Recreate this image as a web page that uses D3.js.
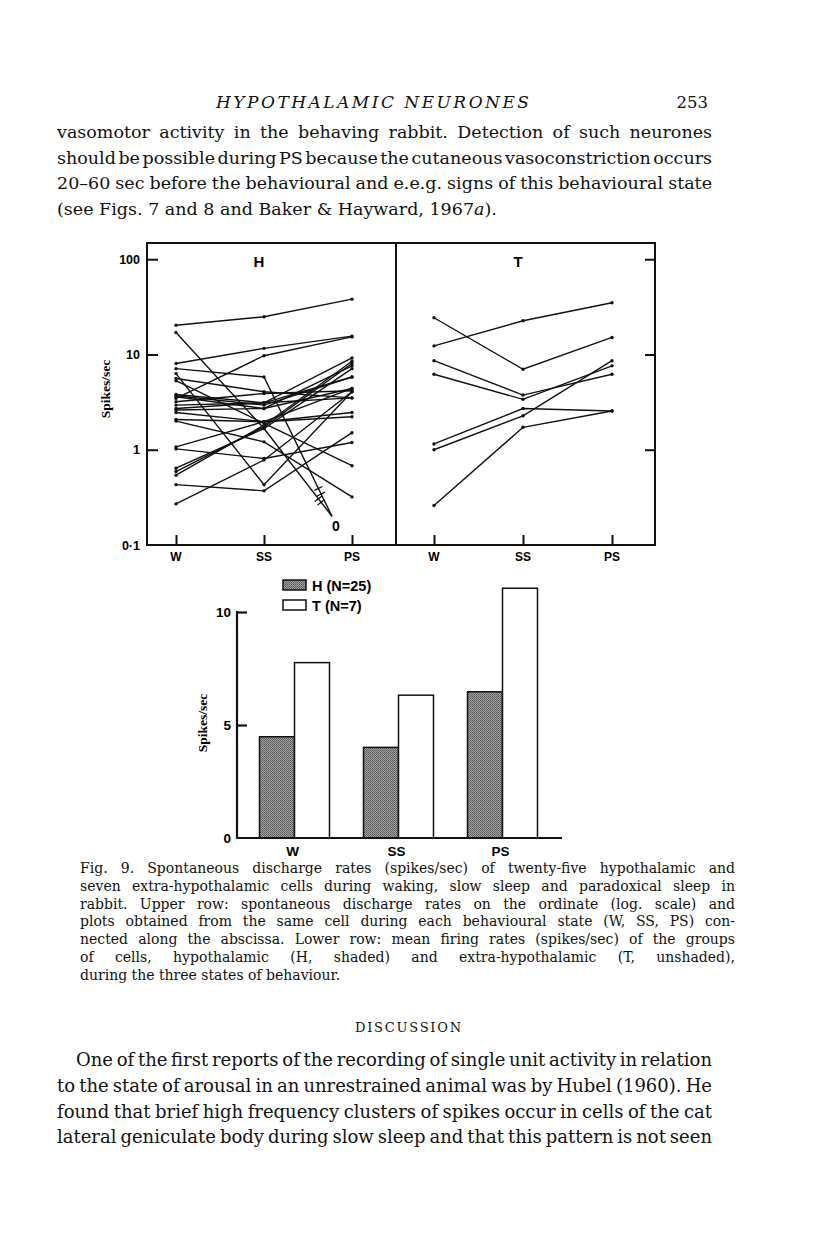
<!DOCTYPE html>
<html>
<head>
<meta charset="utf-8">
<script src="https://cdn.jsdelivr.net/npm/d3@7"></script>
<style>
  body { margin: 0; background: #fff; }
  svg { display: block; }
</style>
</head>
<body>
<svg></svg>
<script>
/* data */
var states = ['W', 'SS', 'PS'];
var panelTitles = ['H', 'T'];

// H: 25 hypothalamic cells, spikes/sec (0 = silent)
var hW  = [20.3, 17.0, 8.05, 3.46, 7.1, 6.3, 5.6, 5.3, 3.8, 3.69, 3.6, 3.19, 2.71, 2.61, 2.46, 2.08, 2.0, 1.07, 1.02, 0.64, 0.59, 0.54, 0.43, 0.27, 2.94];
var hSS = [24.9, 1.67, 11.6, 9.7, 5.8, 0.43, 4.06, 1.89, 3.11, 2.94, 2.71, 3.9, 3.11, 2.71, 1.97, 1.97, 1.21, 1.97, 0.81, 1.67, 1.74, 1.81, 0.37, 0.78, 3.11];
var hPS = [38.1, 0, 15.6, 15.3, 0, 4.06, 3.5, 0.68, 9.2, 5.8, 4.4, 4.16, 3.5, 7.6, 2.46, 2.22, 0.32, 4.4, 1.19, 7.1, 8.05, 8.5, 1.51, 4.06, 5.8];

// T: 7 extra-hypothalamic cells
var tW  = [24.3, 12.3, 8.6, 6.2, 1.15, 1.0, 0.26];
var tSS = [7.0, 22.6, 3.75, 3.38, 2.71, 2.27, 1.72];
var tPS = [15.1, 34.9, 6.2, 7.6, 2.55, 8.6, 2.55];

// lower row: group means
var meanH = [4.48, 4.01, 6.47];
var meanT = [7.76, 6.32, 11.05];
var groupLabels = ['H (N=25)', 'T (N=7)'];

var logTicks = [0.1, 1, 10, 100];
var logTickLabels = ['0·1', '1', '10', '100'];
var barTicks = [0, 5, 10];

var headerText = ['HYPOTHALAMIC NEURONES', '253'];
var bodyLines = [
  'vasomotor activity in the behaving rabbit. Detection of such neurones',
  'should be possible during PS because the cutaneous vasoconstriction occurs',
  '20–60 sec before the behavioural and e.e.g. signs of this behavioural state'
];
var captionLines = [
  'Fig. 9. Spontaneous discharge rates (spikes/sec) of twenty-five hypothalamic and',
  'seven extra-hypothalamic cells during waking, slow sleep and paradoxical sleep in',
  'rabbit. Upper row: spontaneous discharge rates on the ordinate (log. scale) and',
  'plots obtained from the same cell during each behavioural state (W, SS, PS) con-',
  'nected along the abscissa. Lower row: mean firing rates (spikes/sec) of the groups',
  'of cells, hypothalamic (H, shaded) and extra-hypothalamic (T, unshaded),',
  'during the three states of behaviour.'
];
var discussionLines = [
  'One of the first reports of the recording of single unit activity in relation',
  'to the state of arousal in an unrestrained animal was by Hubel (1960). He',
  'found that brief high frequency clusters of spikes occur in cells of the cat',
  'lateral geniculate body during slow sleep and that this pattern is not seen'
];

/* page setting */
var svgWidth = 816;
var svgHeight = 1258;
var serif = '"Liberation Serif", "DejaVu Serif", serif';
var book = '"DejaVu Serif", serif';
var sans = '"Liberation Sans", Arial, sans-serif';
var frame = {left: 147, right: 655, mid: 396, top: 243, bottom: 545};
var zeroLevel = 0.2;   // where the "0" cells are drawn on the log scale
var scale = {};

var svg = d3.select('svg')
    .attr('width', svgWidth)
    .attr('height', svgHeight);

setScale();
drawText();
drawUpper();
drawLower();

function setScale(){
  scale.y = d3.scaleLog()
      .domain([0.1, 148])
      .range([frame.bottom, frame.top]);
  scale.xH = d3.scalePoint().domain(states).range([176, 352]);
  scale.xT = d3.scalePoint().domain(states).range([434, 612]);

  scale.barY = d3.scaleLinear()
      .domain([0, 10])
      .range([838, 612]);
  scale.barX = d3.scalePoint().domain(states).range([294.5, 502.5]);
}

/* upper row: log plots */
function drawUpper(){
  var g = svg.append('g').attr('class', 'upper');

  g.append('rect')
      .attr('x', frame.left).attr('y', frame.top)
      .attr('width', frame.right - frame.left)
      .attr('height', frame.bottom - frame.top)
      .attr('fill', 'none').attr('stroke', '#111').attr('stroke-width', 2);
  g.append('line')
      .attr('x1', frame.mid).attr('x2', frame.mid)
      .attr('y1', frame.top).attr('y2', frame.bottom)
      .attr('stroke', '#111').attr('stroke-width', 2);

  // inward ticks, left and right
  var leftAxis = g.append('g')
      .attr('transform', translate(frame.left, 0))
      .call(d3.axisRight(scale.y).tickValues([1, 10, 100]).tickSize(11).tickFormat(''));
  var rightAxis = g.append('g')
      .attr('transform', translate(frame.right, 0))
      .call(d3.axisLeft(scale.y).tickValues([1, 10, 100]).tickSize(10).tickFormat(''));
  [leftAxis, rightAxis].forEach(function(a){
    a.select('.domain').remove();
    a.selectAll('line').attr('stroke', '#111').attr('stroke-width', 2);
  });

  g.selectAll('text.ylab')
      .data(logTicks)
      .enter()
      .append('text')
      .attr('class', 'ylab')
      .attr('x', frame.left - 7)
      .attr('y', function(d){ return scale.y(d) + 4.5; })
      .attr('text-anchor', 'end')
      .attr('font-family', sans).attr('font-weight', 'bold').attr('font-size', 12.5)
      .text(function(d, i){ return logTickLabels[i]; });

  g.append('text')
      .attr('transform', translate(110, 389) + ' rotate(-90)')
      .attr('text-anchor', 'middle')
      .attr('font-family', serif).attr('font-weight', 'bold').attr('font-size', 13.5)
      .text('Spikes/sec');

  drawPanel(g, scale.xH, hW, hSS, hPS, panelTitles[0]);
  drawPanel(g, scale.xT, tW, tSS, tPS, panelTitles[1]);
}

function drawPanel(g, x, W, SS, PS, title){
  var p = g.append('g');

  var xAxis = p.append('g')
      .attr('transform', translate(0, frame.bottom))
      .call(d3.axisTop(x).tickSize(10).tickFormat(''));
  xAxis.select('.domain').remove();
  xAxis.selectAll('line').attr('stroke', '#111').attr('stroke-width', 2);

  p.selectAll('text.xlab')
      .data(states)
      .enter()
      .append('text')
      .attr('x', function(d){ return x(d); })
      .attr('y', frame.bottom + 16)
      .attr('text-anchor', 'middle')
      .attr('font-family', sans).attr('font-weight', 'bold').attr('font-size', 12)
      .text(function(d){ return d; });

  p.append('text')
      .attr('x', x('SS') - 5)
      .attr('y', frame.top + 24)
      .attr('text-anchor', 'middle')
      .attr('font-family', sans).attr('font-weight', 'bold').attr('font-size', 15)
      .text(title);

  var cells = W.map(function(w, i){
    return [w, SS[i], PS[i]].map(function(v, j){
      if (v === 0) {
        return {x: x(states[j]) - 20, y: scale.y(zeroLevel), zero: true};
      }
      return {x: x(states[j]), y: scale.y(v), zero: false};
    });
  });

  var line = d3.line()
      .x(function(d){ return d.x; })
      .y(function(d){ return d.y; });

  p.selectAll('path.cell')
      .data(cells)
      .enter()
      .append('path')
      .attr('class', 'cell')
      .attr('d', line)
      .attr('fill', 'none')
      .attr('stroke', '#111')
      .attr('stroke-width', 1.4);

  var dots = [];
  cells.forEach(function(c){
    c.forEach(function(d){ if (!d.zero) dots.push(d); });
  });
  p.selectAll('circle')
      .data(dots)
      .enter()
      .append('circle')
      .attr('cx', function(d){ return d.x; })
      .attr('cy', function(d){ return d.y; })
      .attr('r', 1.7)
      .attr('fill', '#111');

  // broken segments going down to zero
  var hasZero = false;
  cells.forEach(function(c){
    for (var j = 1; j < c.length; j++) {
      if (!c[j].zero) continue;
      hasZero = true;
      var a = c[j - 1], b = c[j];
      var dx = b.x - a.x, dy = b.y - a.y, len = Math.sqrt(dx * dx + dy * dy);
      var ux = dx / len, uy = dy / len;
      [0.8, 0.84].forEach(function(t){
        var mx = a.x + dx * t, my = a.y + dy * t;
        p.append('line')
            .attr('x1', mx - uy * 4.5).attr('y1', my + ux * 4.5)
            .attr('x2', mx + uy * 4.5).attr('y2', my - ux * 4.5)
            .attr('stroke', '#111').attr('stroke-width', 1.3);
      });
    }
  });
  if (hasZero) {
    p.append('text')
        .attr('x', x('PS') - 16)
        .attr('y', scale.y(zeroLevel) + 15)
        .attr('text-anchor', 'middle')
        .attr('font-family', sans).attr('font-weight', 'bold').attr('font-size', 14)
        .text('0');
  }
}

/* lower row: bar chart of means */
function drawLower(){
  var g = svg.append('g').attr('class', 'lower');
  var barWidth = 35;

  var defs = svg.append('defs');
  var pat = defs.append('pattern')
      .attr('id', 'shade')
      .attr('width', 2).attr('height', 2)
      .attr('patternUnits', 'userSpaceOnUse');
  pat.append('rect').attr('width', 2).attr('height', 2).attr('fill', '#a4a4a4');
  pat.append('rect').attr('width', 1).attr('height', 1).attr('fill', '#555');
  pat.append('rect').attr('x', 1).attr('y', 1).attr('width', 1).attr('height', 1).attr('fill', '#666');

  g.selectAll('rect.h')
      .data(meanH)
      .enter()
      .append('rect')
      .attr('x', function(d, i){ return scale.barX(states[i]) - barWidth; })
      .attr('y', function(d){ return scale.barY(d); })
      .attr('width', barWidth)
      .attr('height', function(d){ return scale.barY(0) - scale.barY(d); })
      .attr('fill', 'url(#shade)')
      .attr('stroke', '#111').attr('stroke-width', 1.5);

  g.selectAll('rect.t')
      .data(meanT)
      .enter()
      .append('rect')
      .attr('x', function(d, i){ return scale.barX(states[i]); })
      .attr('y', function(d){ return scale.barY(d); })
      .attr('width', barWidth)
      .attr('height', function(d){ return scale.barY(0) - scale.barY(d); })
      .attr('fill', '#fff')
      .attr('stroke', '#111').attr('stroke-width', 1.5);

  var axisX = 237;
  var yAxis = g.append('g')
      .attr('transform', translate(axisX, 0))
      .call(d3.axisRight(scale.barY).tickValues([5, 10]).tickSize(10).tickFormat(''));
  yAxis.select('.domain').remove();
  yAxis.selectAll('line').attr('stroke', '#111').attr('stroke-width', 2.2);

  g.append('line')
      .attr('x1', axisX).attr('x2', axisX)
      .attr('y1', scale.barY(10) - 1).attr('y2', scale.barY(0))
      .attr('stroke', '#111').attr('stroke-width', 2.2);
  g.append('line')
      .attr('x1', axisX - 1).attr('x2', 562)
      .attr('y1', scale.barY(0)).attr('y2', scale.barY(0))
      .attr('stroke', '#111').attr('stroke-width', 2.2);

  g.selectAll('text.ylab')
      .data(barTicks)
      .enter()
      .append('text')
      .attr('x', axisX - 6)
      .attr('y', function(d){ return scale.barY(d) + 5; })
      .attr('text-anchor', 'end')
      .attr('font-family', sans).attr('font-weight', 'bold').attr('font-size', 13.5)
      .text(function(d){ return d; });

  g.selectAll('text.xlab')
      .data(states)
      .enter()
      .append('text')
      .attr('x', function(d){ return scale.barX(d) - 2; })
      .attr('y', scale.barY(0) + 18)
      .attr('text-anchor', 'middle')
      .attr('font-family', sans).attr('font-weight', 'bold').attr('font-size', 13.5)
      .text(function(d){ return d; });

  g.append('text')
      .attr('transform', translate(207, 723) + ' rotate(-90)')
      .attr('text-anchor', 'middle')
      .attr('font-family', serif).attr('font-weight', 'bold').attr('font-size', 13.5)
      .text('Spikes/sec');

  // legend
  var leg = g.selectAll('g.leg')
      .data(groupLabels)
      .enter()
      .append('g')
      .attr('transform', function(d, i){ return translate(283, 580 + i * 20); });
  leg.append('rect')
      .attr('width', 23).attr('height', 10)
      .attr('fill', function(d, i){ return i === 0 ? 'url(#shade)' : '#fff'; })
      .attr('stroke', '#111').attr('stroke-width', 1.5);
  leg.append('text')
      .attr('x', 29).attr('y', 11)
      .attr('font-family', sans).attr('font-weight', 'bold').attr('font-size', 14.5)
      .text(function(d){ return d; });
}

/* running text of the page */
function drawText(){
  var t = svg.append('g').attr('class', 'page').attr('fill', '#111');

  t.append('text')
      .attr('x', 216).attr('y', 108)
      .attr('font-family', book).attr('font-style', 'italic').attr('font-size', 17)
      .attr('textLength', 313).attr('lengthAdjust', 'spacing')
      .text(headerText[0]);
  t.append('text')
      .attr('x', 708).attr('y', 108)
      .attr('text-anchor', 'end')
      .attr('font-family', book).attr('font-size', 16.5)
      .text(headerText[1]);

  var body = t.selectAll('text.body')
      .data(bodyLines)
      .enter()
      .append('text')
      .attr('x', 57)
      .attr('y', function(d, i){ return 138 + i * 25.6; })
      .attr('font-family', book).attr('font-size', 17.5)
      .text(function(d){ return d; });
  justify(body, 655);
  var last = t.append('text')
      .attr('x', 57).attr('y', 138 + 3 * 25.6)
      .attr('font-family', book).attr('font-size', 17.5);
  last.append('tspan').text('(see Figs. 7 and 8 and Baker & Hayward, 1967');
  last.append('tspan').attr('font-style', 'italic').text('a');
  last.append('tspan').text(').');

  var cap = t.selectAll('text.cap')
      .data(captionLines)
      .enter()
      .append('text')
      .attr('x', 80)
      .attr('y', function(d, i){ return 873 + i * 17.8; })
      .attr('font-family', book).attr('font-size', 14)
      .text(function(d){ return d; });
  justify(cap.filter(function(d, i){ return i < captionLines.length - 1; }), 655);

  t.append('text')
      .attr('x', 355).attr('y', 1032)
      .attr('font-family', book).attr('font-size', 13)
      .attr('textLength', 106).attr('lengthAdjust', 'spacing')
      .text('DISCUSSION');

  var disc = t.selectAll('text.disc')
      .data(discussionLines)
      .enter()
      .append('text')
      .attr('x', function(d, i){ return i === 0 ? 76 : 57; })
      .attr('y', function(d, i){ return 1066 + i * 25.8; })
      .attr('font-family', book).attr('font-size', 18)
      .text(function(d){ return d; });
  disc.each(function(d, i){ justify(d3.select(this), i === 0 ? 636 : 655); });
}

// spread the spaces so that a line fills the measure
function justify(sel, width){
  sel.each(function(){
    var natural = this.getComputedTextLength();
    var spaces = (this.textContent.match(/ /g) || []).length;
    if (spaces) d3.select(this).attr('word-spacing', (width - natural) / spaces);
  });
}

function translate(x, y) {
  return 'translate(' + x + ',' + y + ')';
}
</script>
</body>
</html>
